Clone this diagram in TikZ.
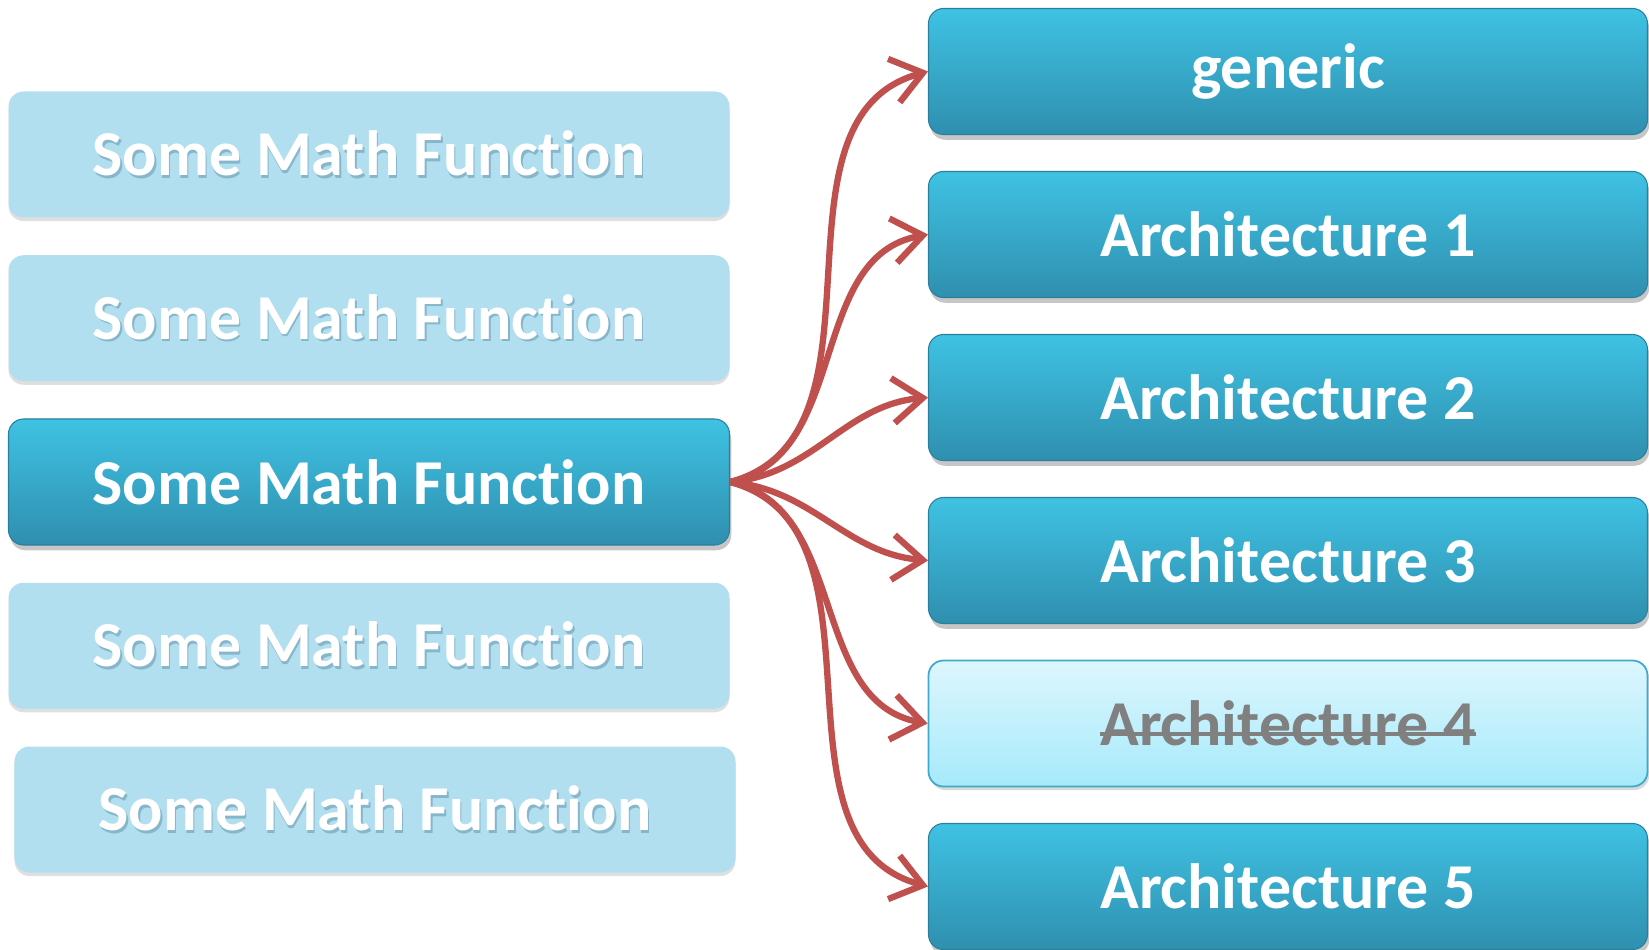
\documentclass[tikz,border=0pt]{standalone}
\usepackage{fontspec}
\setmainfont{Carlito}[Ligatures=NoCommon]
\usetikzlibrary{arrows.meta,shadows}

\definecolor{linkred}{HTML}{C0504D}
\definecolor{darktop}{HTML}{3FC2E3}
\definecolor{darkbot}{HTML}{2F8FAF}
\definecolor{darkedge}{HTML}{2A7F9C}
\definecolor{palebox}{HTML}{B2DFEF}
\definecolor{paleshade}{HTML}{86B6CA}
\definecolor{offtop}{HTML}{DDF6FD}
\definecolor{offbot}{HTML}{A6EAFB}
\definecolor{offedge}{HTML}{3FA9CA}

% struck-out label
\newsavebox{\strikebox}
\newcommand{\struck}[1]{\sbox{\strikebox}{#1}\rlap{\usebox{\strikebox}}\raisebox{5.5pt}{\rule{\wd\strikebox}{2.4pt}}}
% white label with a soft shadow
\newcommand{\shaded}[1]{\rlap{\hspace{0.8pt}\raisebox{-1.6pt}{\textcolor{paleshade}{#1}}}#1}

\tikzset{
  box/.style={rounded corners=0.3cm, minimum width=14.42cm, minimum height=2.52cm,
    inner sep=0pt, text=white, font=\fontsize{36.4}{42}\selectfont\bfseries},
  palefunc/.style={box, fill=palebox,
    drop shadow={shadow xshift=0pt, shadow yshift=-2pt, opacity=0.25}},
  livebox/.style={box, top color=darktop, bottom color=darkbot, draw=darkedge, line width=0.6pt,
    drop shadow={shadow xshift=1pt, shadow yshift=-3pt, opacity=0.45}},
  deadbox/.style={box, top color=offtop, bottom color=offbot, draw=offedge, line width=1pt,
    text=gray, drop shadow={shadow xshift=1pt, shadow yshift=-2pt, opacity=0.3}},
  link/.style={draw=linkred, line width=3.6pt,
    -{Straight Barb[length=0.6cm, width=0.9cm, line width=3.6pt]}}
}

\begin{document}
\begin{tikzpicture}[node distance=3.275cm]
    \useasboundingbox (0,0) rectangle (32.98,-19);

    % left column: math functions
    \node [palefunc]                  (fn1) at (7.38,-3.09) {\shaded{Some Math Function}};
    \node [palefunc, below of=fn1]    (fn2) {\shaded{Some Math Function}};
    \node [livebox, below of=fn2]     (fn3) {Some Math Function};
    \node [palefunc, below of=fn3]    (fn4) {\shaded{Some Math Function}};
    \node [palefunc, below of=fn4, xshift=0.12cm] (fn5) {\shaded{Some Math Function}};

    % right column: implementations
    \begin{scope}[node distance=3.26cm]
    \node [livebox, minimum width=14.38cm] (gen) at (25.76,-1.43) {generic};
    \node [livebox, minimum width=14.38cm, below of=gen]  (arch1) {Architecture 1};
    \node [livebox, minimum width=14.38cm, below of=arch1] (arch2) {Architecture 2};
    \node [livebox, minimum width=14.38cm, below of=arch2] (arch3) {Architecture 3};
    \node [deadbox, minimum width=14.38cm, below of=arch3] (arch4) {\struck{Architecture 4}};
    \node [livebox, minimum width=14.38cm, below of=arch4] (arch5) {Architecture 5};
    \end{scope}

    % fan-out links
    \draw [link] (fn3.east) to[out=15, in=195] (gen.west);
    \draw [link] (fn3.east) to[out=12, in=190] (arch1.west);
    \draw [link] (fn3.east) to[out=5, in=185] (arch2.west);
    \draw [link] (fn3.east) to[out=-5, in=175] (arch3.west);
    \draw [link] (fn3.east) to[out=-12, in=170] (arch4.west);
    \draw [link] (fn3.east) to[out=-15, in=165] (arch5.west);
\end{tikzpicture}
\end{document}
